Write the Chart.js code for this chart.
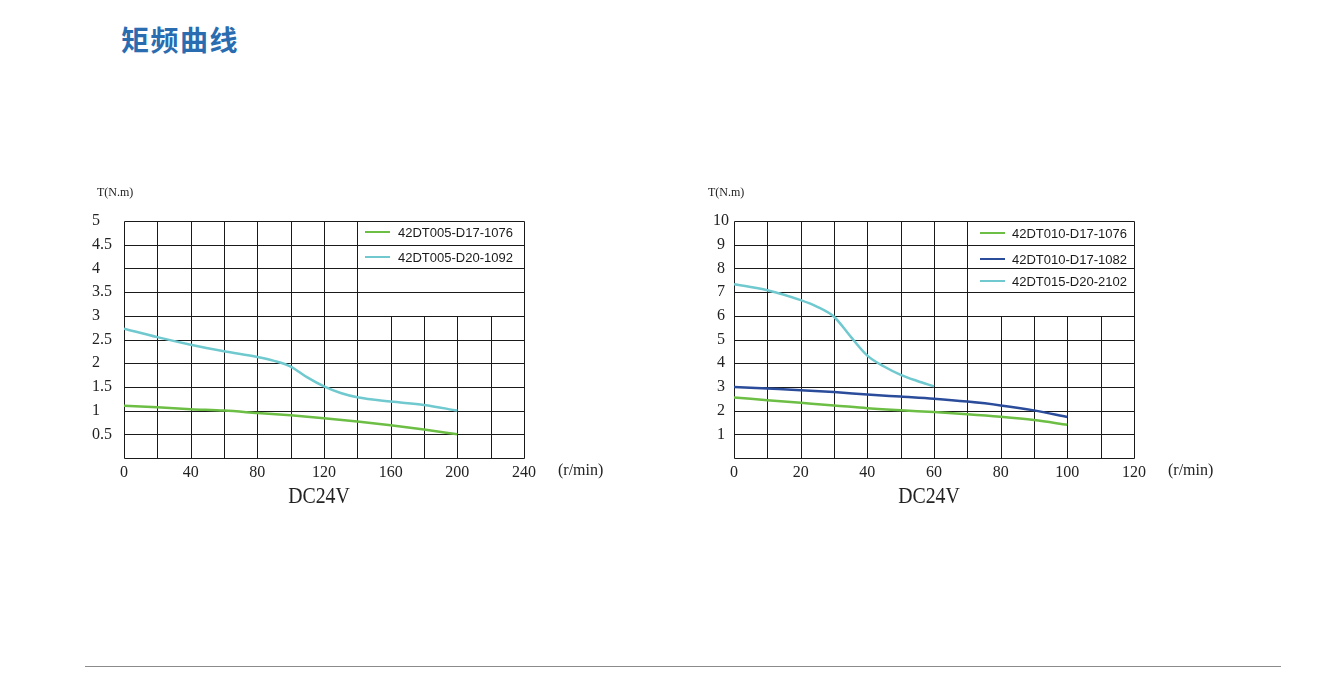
<!DOCTYPE html>
<html><head><meta charset="utf-8">
<script src="https://cdn.jsdelivr.net/npm/chart.js@4.4.1/dist/chart.umd.min.js"></script>
<style>
html,body{margin:0;padding:0;background:#fff;}
#wrap{position:relative;width:1330px;height:685px;overflow:hidden;background:#fff;}
canvas{position:absolute;left:0;top:0;}
#title{position:absolute;left:121px;top:25px;font-family:"Noto Sans CJK SC";font-weight:700;font-size:28px;color:#2a6cb0;line-height:1;letter-spacing:1.5px;}
#rule{position:absolute;left:85px;top:666px;width:1196px;height:0;border-top:1.5px solid #8c8c8c;}
</style></head><body>
<div id="wrap">
<div id="title">矩频曲线</div>
<canvas id="c1" width="1330" height="685"></canvas>
<canvas id="c2" width="1330" height="685"></canvas>
<div id="rule"></div>
</div>
<script>
// ---- Left chart data ----
const xTicksL = [0, 40, 80, 120, 160, 200, 240];
const yTicksL = [0.5, 1, 1.5, 2, 2.5, 3, 3.5, 4, 4.5, 5];
const xGridL = [0, 20, 40, 60, 80, 100, 120, 140, 160, 180, 200, 220, 240];
const yGridL = [0, 0.5, 1, 1.5, 2, 2.5, 3, 3.5, 4, 4.5, 5];
const labelsL = ["42DT005-D17-1076", "42DT005-D20-1092"];
const speedL1076 = [0, 20, 40, 60, 80, 100, 120, 140, 160, 180, 200];
const torqueL1076 = [1.10, 1.07, 1.03, 1.00, 0.95, 0.90, 0.84, 0.77, 0.69, 0.60, 0.50];
const speedL1092 = [0, 20, 40, 60, 80, 90, 100, 110, 120, 130, 140, 160, 180, 200];
const torqueL1092 = [2.73, 2.55, 2.39, 2.25, 2.13, 2.05, 1.93, 1.70, 1.51, 1.37, 1.28, 1.19, 1.12, 1.00];

// ---- Right chart data ----
const xTicksR = [0, 20, 40, 60, 80, 100, 120];
const yTicksR = [1, 2, 3, 4, 5, 6, 7, 8, 9, 10];
const xGridR = [0, 10, 20, 30, 40, 50, 60, 70, 80, 90, 100, 110, 120];
const yGridR = [0, 1, 2, 3, 4, 5, 6, 7, 8, 9, 10];
const labelsR = ["42DT010-D17-1076", "42DT010-D17-1082", "42DT015-D20-2102"];
const speedR1076 = [0, 10, 20, 30, 40, 50, 60, 70, 80, 90, 100];
const torqueR1076 = [2.55, 2.44, 2.33, 2.22, 2.10, 2.01, 1.94, 1.85, 1.74, 1.60, 1.40];
const speedR1082 = [0, 10, 20, 30, 40, 50, 60, 70, 80, 90, 100];
const torqueR1082 = [3.00, 2.93, 2.86, 2.78, 2.68, 2.59, 2.50, 2.38, 2.22, 2.01, 1.73];
const speedR2102 = [0, 10, 20, 25, 30, 35, 40, 45, 50, 55, 60];
const torqueR2102 = [7.33, 7.08, 6.66, 6.38, 5.96, 5.12, 4.32, 3.86, 3.51, 3.25, 3.02];

const GREEN = '#6cbe45', CYAN = '#6fc9cf', BLUE = '#2b4c9b';
const SERIF = '"Liberation Serif", "DejaVu Serif", serif';
const SANS = '"Liberation Sans", Arial, sans-serif';

function pts(xs, ys) { return xs.map((x, i) => ({ x: x, y: ys[i] })); }

function gridPlugin(o) {
  return {
    id: 'customGrid',
    beforeDatasetsDraw(chart) {
      const { ctx, chartArea: a, scales: { x, y } } = chart;
      ctx.save();
      ctx.strokeStyle = '#1a1a1a';
      ctx.lineWidth = 1;
      ctx.beginPath();
      o.yGrid.forEach(v => {
        const py = Math.round(y.getPixelForValue(v)) + 0.5;
        ctx.moveTo(Math.round(a.left) + 0.5, py);
        ctx.lineTo(Math.round(a.right) + 0.5, py);
      });
      o.xGrid.forEach(v => {
        const px = Math.round(x.getPixelForValue(v)) + 0.5;
        const topVal = (v > o.legendX && v < o.xMax) ? o.legendY : o.yMax;
        ctx.moveTo(px, Math.round(y.getPixelForValue(0)) + 0.5);
        ctx.lineTo(px, Math.round(y.getPixelForValue(topVal)) + 0.5);
      });
      ctx.stroke();
      ctx.restore();
    },
    afterDraw(chart) {
      const { ctx, chartArea: a } = chart;
      ctx.save();
      ctx.fillStyle = '#222';
      ctx.font = '12px ' + SERIF;
      ctx.textBaseline = 'middle';
      ctx.textAlign = 'left';
      ctx.fillText('T(N.m)', a.left + o.tDx, 193);
      ctx.font = '16px ' + SERIF;
      ctx.fillText('(r/min)', a.right + 34, 471);
      ctx.save();
      ctx.translate((a.left + a.right) / 2 - 5, 497);
      ctx.scale(0.86, 1);
      ctx.font = '23px ' + SERIF;
      ctx.textAlign = 'center';
      ctx.fillText('DC24V', 0, 0);
      ctx.restore();
      ctx.font = '13px ' + SANS;
      ctx.textAlign = 'left';
      chart.data.datasets.forEach((ds, i) => {
        const ry = o.legendRows[i];
        ctx.strokeStyle = ds.borderColor;
        ctx.lineWidth = 2;
        ctx.beginPath();
        ctx.moveTo(a.right - o.legLine[0], ry);
        ctx.lineTo(a.right - o.legLine[1], ry);
        ctx.stroke();
        ctx.fillStyle = '#1a1a1a';
        ctx.fillText(ds.label, a.right - o.legText, ry + 1);
      });
      ctx.restore();
    }
  };
}

function makeChart(id, o) {
  return new Chart(document.getElementById(id), {
    type: 'line',
    data: {
      datasets: o.series.map(s => ({
        label: s.label, data: s.data, borderColor: s.color, backgroundColor: s.color,
        borderWidth: 2.5, pointRadius: 0, pointHoverRadius: 0, fill: false,
        tension: 0.4, cubicInterpolationMode: 'monotone'
      }))
    },
    options: {
      responsive: false, animation: false, events: [],
      layout: { padding: o.padding },
      plugins: { legend: { display: false }, tooltip: { enabled: false }, title: { display: false } },
      scales: {
        x: {
          type: 'linear', min: 0, max: o.xMax,
          grid: { display: false, drawTicks: false }, border: { display: false },
          afterBuildTicks: s => { s.ticks = o.xTicks.map(v => ({ value: v })); },
          afterFit: s => { s.height = 40; },
          ticks: { padding: 5, color: '#222', font: { family: SERIF, size: 16 }, maxRotation: 0, autoSkip: false,
                   callback: v => String(v) }
        },
        y: {
          type: 'linear', min: 0, max: o.yMax,
          grid: { display: false, drawTicks: false }, border: { display: false },
          afterBuildTicks: s => { s.ticks = o.yTicks.map(v => ({ value: v })); },
          afterFit: s => { s.width = o.yAxisWidth; },
          ticks: { padding: o.yPad, crossAlign: o.crossAlign, color: '#222', font: { family: SERIF, size: 16 }, autoSkip: false,
                   callback: v => String(v) }
        }
      }
    },
    plugins: [gridPlugin(o)]
  });
}

makeChart('c1', {
  xMax: 240, yMax: 5, xTicks: xTicksL, yTicks: yTicksL, xGrid: xGridL, yGrid: yGridL,
  legendX: 140, legendY: 3,
  padding: { left: 92, top: 221, right: 806, bottom: 187 },
  yAxisWidth: 32, yPad: 4, crossAlign: 'far', tDx: -27,
  legendRows: [232, 257], legLine: [159, 134], legText: 126,
  series: [
    { label: labelsL[0], color: GREEN, data: pts(speedL1076, torqueL1076) },
    { label: labelsL[1], color: CYAN, data: pts(speedL1092, torqueL1092) }
  ]
});

makeChart('c2', {
  xMax: 120, yMax: 10, xTicks: xTicksR, yTicks: yTicksR, xGrid: xGridR, yGrid: yGridR,
  legendX: 70, legendY: 6,
  padding: { left: 705, top: 221, right: 196, bottom: 187 },
  yAxisWidth: 29, yPad: 5, crossAlign: 'center', tDx: -26,
  legendRows: [233, 259, 281], legLine: [154, 129], legText: 122,
  series: [
    { label: labelsR[0], color: GREEN, data: pts(speedR1076, torqueR1076) },
    { label: labelsR[1], color: BLUE, data: pts(speedR1082, torqueR1082) },
    { label: labelsR[2], color: CYAN, data: pts(speedR2102, torqueR2102) }
  ]
});
</script>
</body></html>
